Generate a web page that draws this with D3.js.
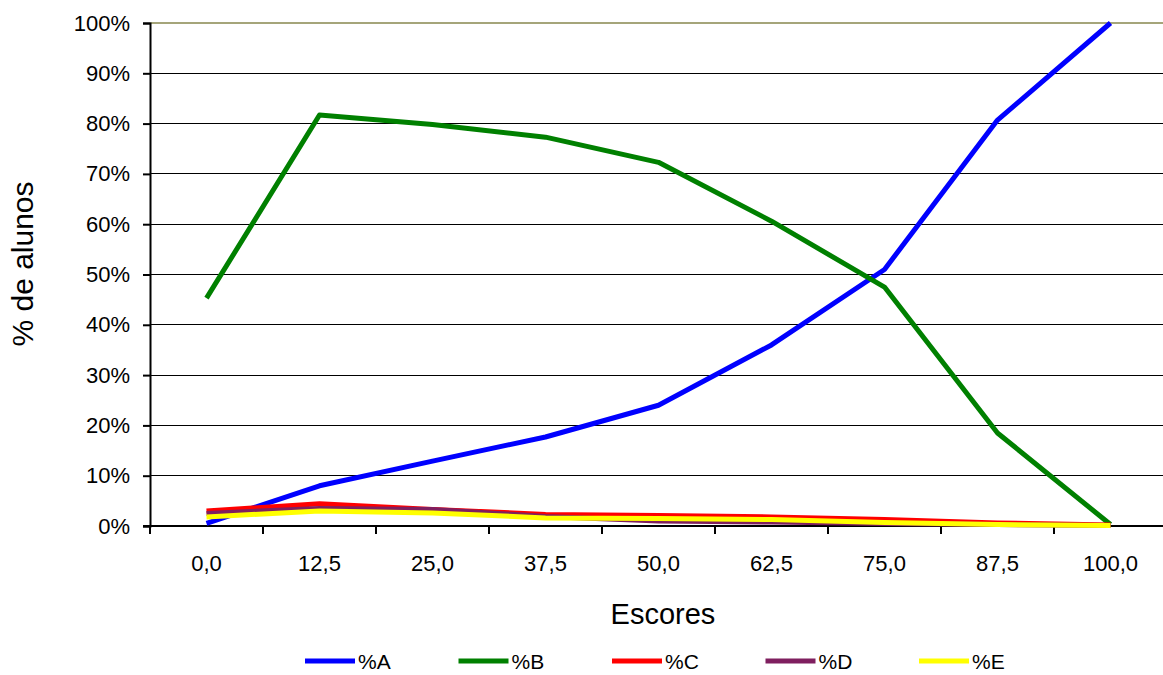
<!DOCTYPE html>
<html><head><meta charset="utf-8">
<script src="https://cdn.jsdelivr.net/npm/d3@7/dist/d3.min.js"></script>
<style>body{margin:0;background:#fff}svg{display:block}text{font-family:"Liberation Sans",Arial,sans-serif;fill:#000}</style>
</head><body>
<svg id="c" width="1163" height="675"></svg>
<script>
const categories = ["0,0","12,5","25,0","37,5","50,0","62,5","75,0","87,5","100,0"];
const seriesNames = ["%A","%B","%C","%D","%E"];
const seriesColors = ["#0000ff","#008000","#ff0000","#7f1f5f","#ffff00"];
const valuesA = [0.5, 8.0, 12.9, 17.7, 24.0, 36.0, 51.0, 80.7, 100.0];
const valuesB = [45.3, 81.7, 79.8, 77.3, 72.3, 60.6, 47.5, 18.5, 0.3];
const valuesC = [3.0, 4.4, 3.3, 2.3, 2.1, 1.8, 1.3, 0.6, 0.2];
const valuesD = [2.5, 3.5, 3.3, 1.9, 1.0, 0.8, 0.5, 0.3, 0.1];
const valuesE = [1.8, 3.0, 2.6, 1.6, 1.5, 1.3, 0.7, 0.3, 0.1];
const yTicks = [0,10,20,30,40,50,60,70,80,90,100];
const allValues = [valuesA, valuesB, valuesC, valuesD, valuesE];

(function(){
const svg = d3.select("#c");
const mLeft = 150, mRight = 1167, mTop = 23, mBottom = 526;
const x = d3.scaleBand().domain(categories).range([mLeft, mRight]);
const y = d3.scaleLinear().domain([0,100]).range([mBottom, mTop]);

// gridlines
svg.append("g").selectAll("line").data(yTicks.filter(t => t > 0)).join("line")
  .attr("x1", mLeft).attr("x2", 1163)
  .attr("y1", d => y(d)).attr("y2", d => y(d))
  .attr("stroke", d => d === 100 ? "#a5a57a" : "#000").attr("stroke-width", d => d === 100 ? 1.5 : 1)
  .attr("shape-rendering","crispEdges");

// y axis
const yAxis = d3.axisLeft(y).tickValues(yTicks).tickFormat(d => d + "%").tickSize(7).tickPadding(13);
const gy = svg.append("g").attr("transform", `translate(${mLeft},0)`).call(yAxis);
gy.select(".domain").attr("stroke","#000").attr("stroke-width",2);
gy.selectAll(".tick line").attr("stroke","#000").attr("stroke-width",2);
gy.selectAll("text").attr("font-size", 22).style("font-family","Liberation Sans, Arial, sans-serif").attr("fill","#000");

// x axis
const xAxis = d3.axisBottom(x).tickSize(0).tickPadding(29);
const gx = svg.append("g").attr("transform", `translate(0,${mBottom})`).call(xAxis);
gx.select(".domain").remove();
gx.selectAll(".tick line").remove();
gx.selectAll("text").attr("font-size", 22).style("font-family","Liberation Sans, Arial, sans-serif").attr("fill","#000");
svg.append("line").attr("x1", mLeft-7).attr("x2", 1163).attr("y1", mBottom).attr("y2", mBottom)
  .attr("stroke","#000").attr("stroke-width",2);
const bounds = categories.map(c => x(c)).concat([x(categories[categories.length-1]) + x.bandwidth()]);
svg.append("g").selectAll("line").data(bounds.filter(b => b < 1163)).join("line")
  .attr("x1", d => d).attr("x2", d => d).attr("y1", mBottom).attr("y2", mBottom + 8)
  .attr("stroke","#000").attr("stroke-width",2);

// lines
const line = d3.line().x((d,i) => x(categories[i]) + x.bandwidth()/2).y(d => y(d));
allValues.forEach((vals, k) => {
  svg.append("path").datum(vals).attr("d", line).attr("fill","none")
    .attr("stroke", seriesColors[k]).attr("stroke-width", 5).attr("stroke-linejoin","round");
});

// axis titles
svg.append("text").attr("x", 663).attr("y", 624).attr("text-anchor","middle").attr("font-size", 29).text("Escores");
svg.append("text").attr("transform","translate(33,264) rotate(-90)").attr("text-anchor","middle").attr("font-size", 30).text("% de alunos");

// legend
const lg = svg.append("g").selectAll("g").data(seriesNames).join("g")
  .attr("transform", (d,i) => `translate(${305 + i*153.5},661)`);
lg.append("line").attr("x1",0).attr("x2",50).attr("y1",0).attr("y2",0)
  .attr("stroke", (d,i) => seriesColors[i]).attr("stroke-width",5);
lg.append("text").attr("x",53).attr("y",8).attr("font-size",21).text(d => d);
})();
</script>
</body></html>
